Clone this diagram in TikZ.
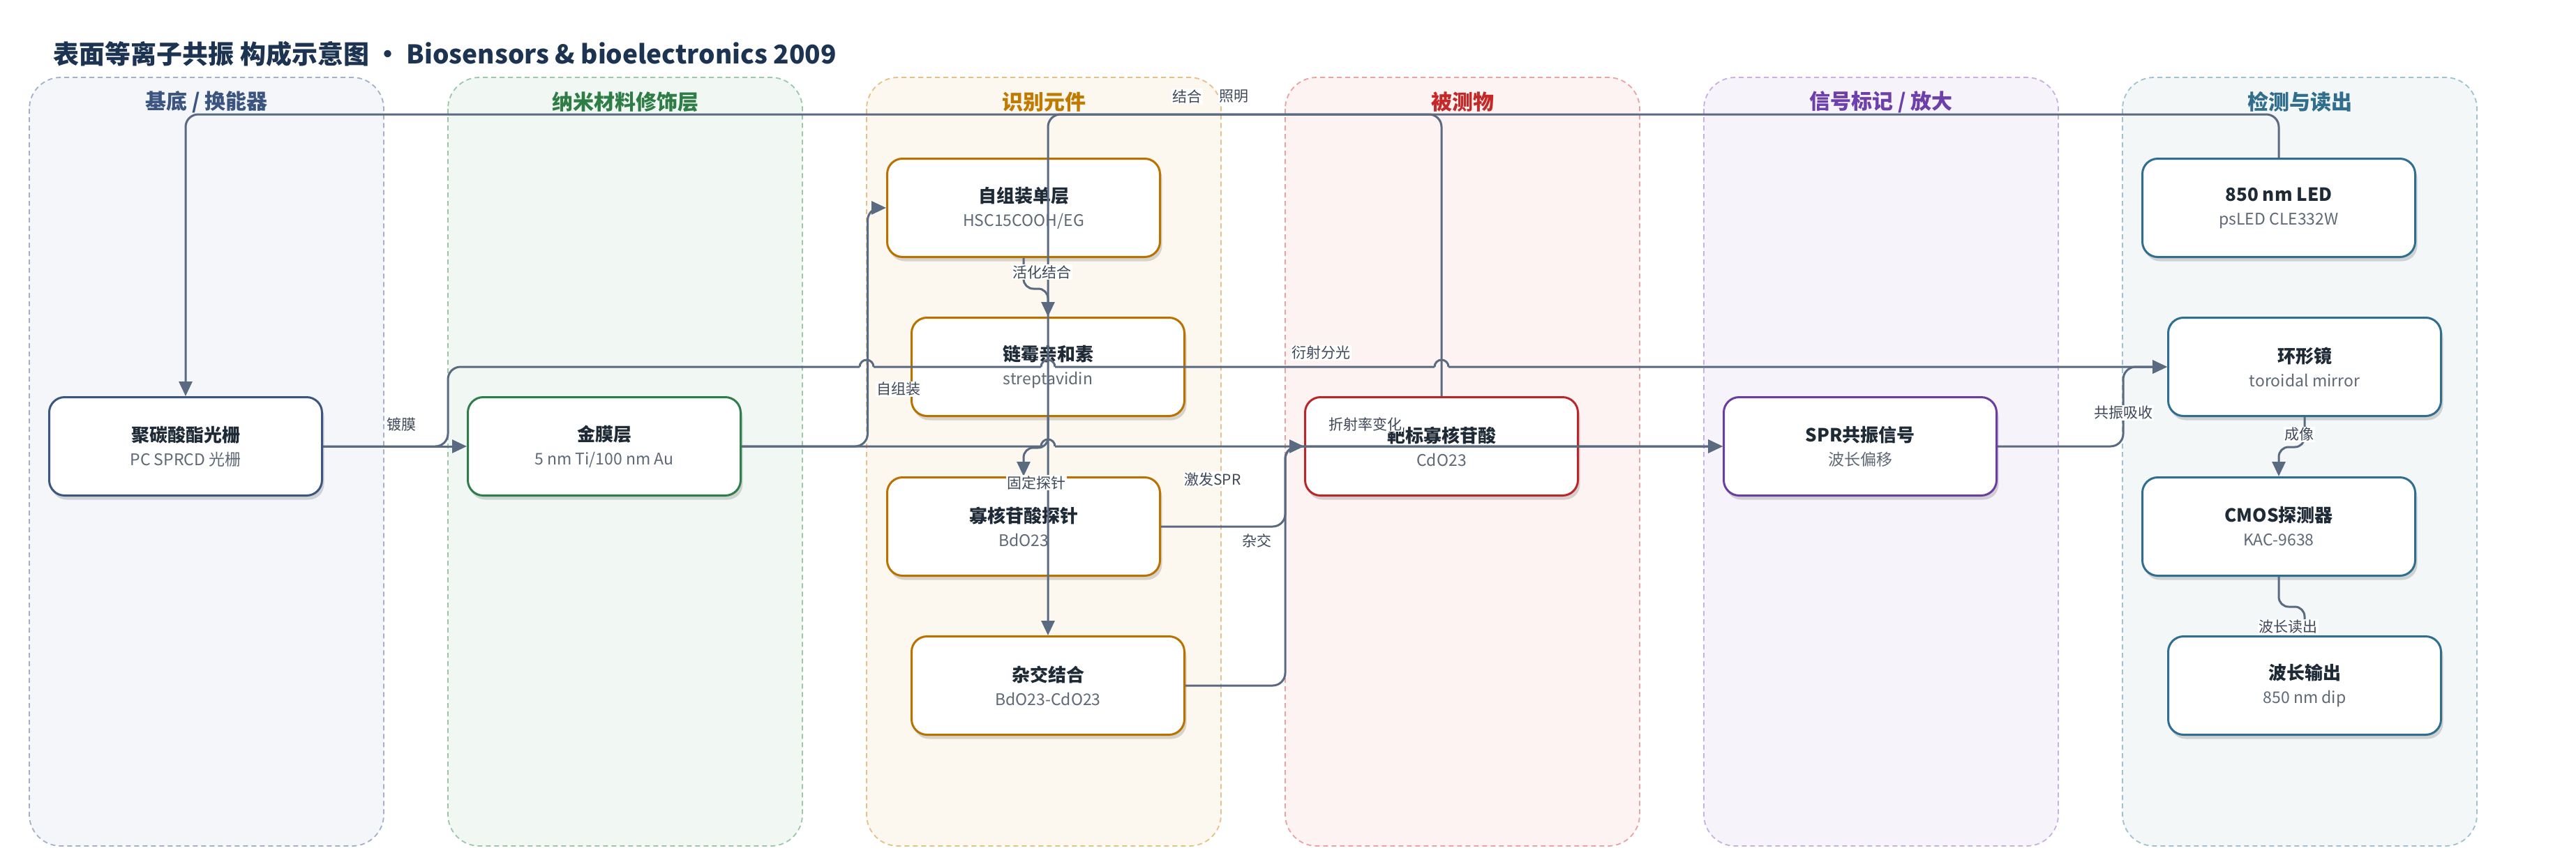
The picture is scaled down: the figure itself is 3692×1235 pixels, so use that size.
\documentclass[tikz,border=0pt]{standalone}
\usepackage{fontspec}
\setmainfont{Noto Sans CJK SC}
\usetikzlibrary{arrows.meta,shadows}

\definecolor{edgeC}{HTML}{5A6A80}
\definecolor{lblC}{HTML}{3E4858}
\definecolor{ttlC}{HTML}{1F2A37}
\definecolor{subC}{HTML}{5F6875}
\definecolor{headC}{HTML}{1C3352}
% carriles
\definecolor{fillA}{HTML}{F4F6FA}\definecolor{drawA}{HTML}{A3B1C8}\definecolor{textA}{HTML}{3B5580}\definecolor{lineA}{HTML}{3B5680}
\definecolor{fillB}{HTML}{F1F8F3}\definecolor{drawB}{HTML}{9CC7A8}\definecolor{textB}{HTML}{2E7D46}\definecolor{lineB}{HTML}{2E7D4A}
\definecolor{fillC}{HTML}{FDF8EF}\definecolor{drawC}{HTML}{E6C187}\definecolor{textC}{HTML}{C17A00}\definecolor{lineC}{HTML}{B97200}
\definecolor{fillD}{HTML}{FDF3F2}\definecolor{drawD}{HTML}{E8A3A3}\definecolor{textD}{HTML}{C62828}\definecolor{lineD}{HTML}{B8282A}
\definecolor{fillE}{HTML}{F7F3FB}\definecolor{drawE}{HTML}{C8B1E2}\definecolor{textE}{HTML}{6C3FAA}\definecolor{lineE}{HTML}{6A3DA0}
\definecolor{fillF}{HTML}{F3F7F8}\definecolor{drawF}{HTML}{A0C2CF}\definecolor{textF}{HTML}{2F6E8D}\definecolor{lineF}{HTML}{2F6E8E}

\newcommand{\bx}[2]{{\fontsize{26}{34}\selectfont\bfseries #1}\\{\color{subC}#2}}
\newcommand{\hopover}[2]{-- (#1-10,#2) (#1-10,#2) arc[start angle=180,end angle=360,radius=10] (#1+10,#2)}

\begin{document}
\begin{tikzpicture}[x=1pt, y=-1pt,
    lane/.style={
        draw=draw#1,
        fill=fill#1,
        dash pattern=on 7pt off 5pt,
        line width=1.8pt,
        rounded corners=45pt
    },
    header/.style={
        font=\fontsize{30}{34}\selectfont\bfseries
    },
    block/.style={
        draw=line#1,
        fill=white,
        line width=3pt,
        rounded corners=22pt,
        minimum width=391pt,
        minimum height=141pt,
        align=center,
        text=ttlC,
        font=\fontsize{23}{34}\selectfont,
        drop shadow={shadow xshift=3pt, shadow yshift=-6pt, fill=black, opacity=0.15}
    },
    link/.style={
        draw=edgeC,
        line width=3pt,
        rounded corners=18pt,
        -{Triangle[length=21pt,width=19pt]}
    },
    lbl/.style={
        fill=white,
        inner sep=1.5pt,
        text=lblC,
        font=\fontsize{21}{24}\selectfont
    }
]

%------------------------------------------------
% Parámetros
%------------------------------------------------
\def\lx{42}
\def\lpitch{600}
\def\lw{508}
\def\ltop{111}
\def\lh{1102}

\fill[white] (0,0) rectangle (3692,1235);
\useasboundingbox (0,0) rectangle (3692,1235);

%------------------------------------------------
% Título
%------------------------------------------------
\node[anchor=west, text=headC, font=\fontsize{37}{40}\selectfont\bfseries] (title) at (73,77)
    {表面等离子共振 构成示意图 · Biosensors \& bioelectronics 2009};

%------------------------------------------------
% Carriles
%------------------------------------------------
\foreach \i/\k/\name in {0/A/{基底 / 换能器}, 1/B/纳米材料修饰层, 2/C/识别元件,
                         3/D/被测物, 4/E/{信号标记 / 放大}, 5/F/检测与读出} {
    \draw[lane=\k] (\lx+\i*\lpitch,\ltop) rectangle ++(\lw,\lh);
    \node[header, text=text\k] (hd\k) at (\lx+\i*\lpitch+\lw/2,146) {\name};
}

%------------------------------------------------
% Bloques
%------------------------------------------------
\node[block=A] (grating) at (266,640) {\bx{聚碳酸酯光栅}{PC SPRCD 光栅}};
\node[block=B] (gold)    at (866,640) {\bx{金膜层}{5 nm Ti/100 nm Au}};
\node[block=C] (sam)     at (1467,298) {\bx{自组装单层}{HSC15COOH/EG}};
\node[block=C] (strep)   at (1502,526) {\bx{链霉亲和素}{streptavidin}};
\node[block=C] (probe)   at (1467,755) {\bx{寡核苷酸探针}{BdO23}};
\node[block=C] (hyb)     at (1502,983) {\bx{杂交结合}{BdO23-CdO23}};
\node[block=D] (target)  at (2066,640) {\bx{靶标寡核苷酸}{CdO23}};
\node[block=E] (spr)     at (2666,640) {\bx{SPR共振信号}{波长偏移}};
\node[block=F] (led)     at (3266,298) {\bx{850 nm LED}{psLED CLE332W}};
\node[block=F] (mirror)  at (3303,526) {\bx{环形镜}{toroidal mirror}};
\node[block=F] (cmos)    at (3266,755) {\bx{CMOS探测器}{KAC-9638}};
\node[block=F] (dip)     at (3303,983) {\bx{波长输出}{850 nm dip}};

\coordinate (rail)  at (0,164);
\coordinate (merge) at (1842,640);

%------------------------------------------------
% Conexiones
%------------------------------------------------
\draw[link] (led.north) |- (rail -| grating.north) -- (grating.north);
\draw[link] (target.north) |- (rail -| hyb.north) -- (hyb.north);
\draw[link] (grating.east) -- (gold.west);
\draw[link] (gold.east) -- ++(180.5,0) |- (sam.west);
\draw[link] (gold.east) \hopover{1502}{640} -- (spr.west);
\draw[link, rounded corners=14pt] (sam.south) -- ++(0,44) -| (strep.north);
\draw[link, rounded corners=14pt] (strep.south) -- ++(0,44) -| (probe.north);
\draw[link] (probe.east) -| (merge) -- (target.west);
\draw[link] (hyb.east) -| (merge) -- (spr.west);
\draw[link] (grating.east) -| (642,526) \hopover{1242}{526} \hopover{1502}{526} \hopover{2066}{526} -- (mirror.west);
\draw[link] (spr.east) -| (3043,526) -- (mirror.west);
\draw[link, rounded corners=14pt] (mirror.south) -- ++(0,43) -| (cmos.north);
\draw[link, rounded corners=14pt] (cmos.south) -- ++(0,43) -| (dip.north);

% etiquetas
\node[lbl] (l-ill)  at (1768,138) {照明};
\node[lbl] (l-bind) at (1701,138) {结合};
\node[lbl] (l-coat) at (575,608)  {镀膜};
\node[lbl] (l-sa)   at (1288,558) {自组装};
\node[lbl] (l-act)  at (1493,390) {活化结合};
\node[lbl] (l-fix)  at (1485,692) {固定探针};
\node[lbl] (l-diff) at (1893,506) {衍射分光};
\node[lbl] (l-exc)  at (1738,687) {激发SPR};
\node[lbl] (l-hyb)  at (1801,775) {杂交};
\node[lbl] (l-ri)   at (1957,608) {折射率变化};
\node[lbl] (l-res)  at (3043,592) {共振吸收};
\node[lbl] (l-img)  at (3295,623) {成像};
\node[lbl] (l-read) at (3279,899) {波长读出};

\end{tikzpicture}
\end{document}
